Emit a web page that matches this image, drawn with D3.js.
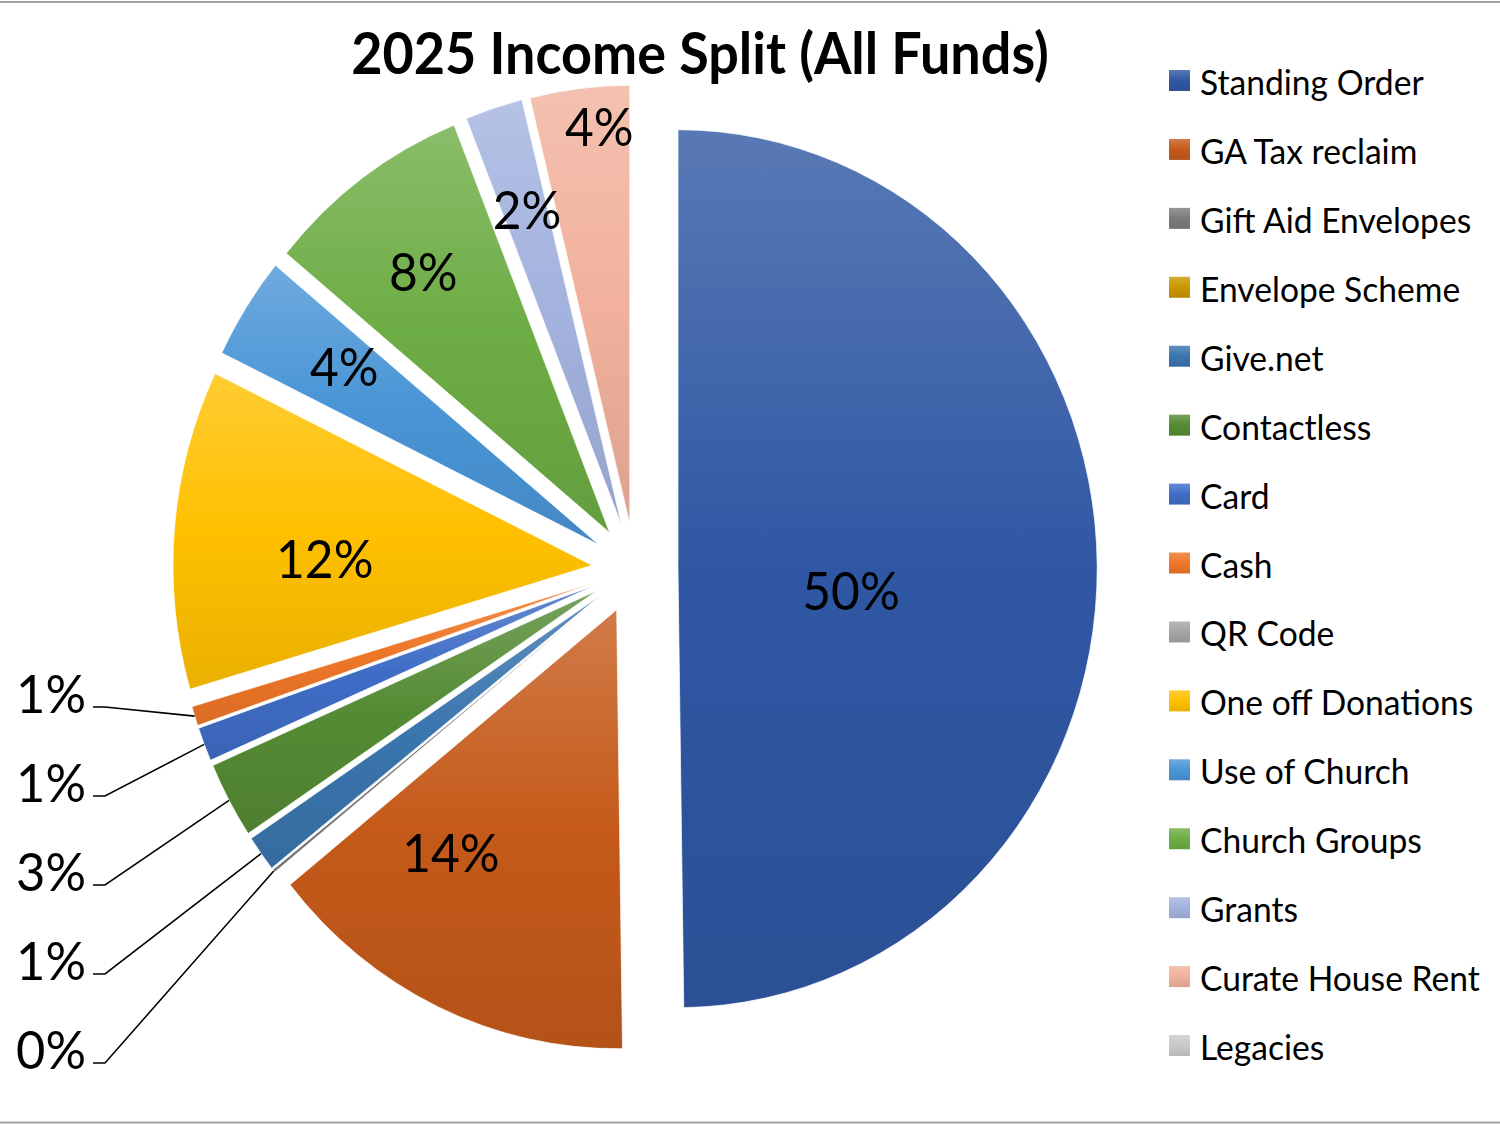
<!DOCTYPE html>
<html>
<head>
<meta charset="utf-8">
<title>2025 Income Split (All Funds)</title>
<script src="https://d3js.org/d3.v7.min.js"></script>
<style>
  body { margin: 0; background: #fff; }
  svg { display: block; font-family: Lato, "Open Sans", sans-serif; }
</style>
</head>
<body>
<div id="chart"></div>
<script>
// income sources, in the order Excel draws them (clockwise from 12 o'clock)
const categories = ['Standing Order', 'GA Tax reclaim', 'Gift Aid Envelopes', 'Envelope Scheme', 'Give.net',
  'Contactless', 'Card', 'Cash', 'QR Code', 'One off Donations', 'Use of Church', 'Church Groups',
  'Grants', 'Curate House Rent', 'Legacies'];
// share of total income in % (0 = blank cell, no label)
const shares = [49.77, 14.44, 0.11, 0, 1.33, 2.81, 1.25, 0.72, 0, 11.75, 3.78, 7.97, 2.22, 3.83, 0];
const colors = ['#2f57a3', '#c55a1a', '#7b7b7b', '#c99700', '#3a75ae', '#558b34', '#3f6dc6', '#ee7627',
  '#a5a5a5', '#ffc000', '#4a95d6', '#6dad45', '#a3b2de', '#f1b19c', '#c9c9c9'];

// label placement inside the slice: [fraction of radius from the slice tip, turn in degrees]
// null = label sits outside with a leader line
const labelPlacement = [[0.416, 7.6], [0.681, 10.3], null, null, null, null, null, null, null,
  [0.638, -3.6], [0.73, 1.0], [0.742, -0.7], [0.755, 0.35], [0.908, 2.3], null];

const W = 1500, H = 1125;
const sx = 0.955;              // the picture is squeezed a little horizontally
const ux = x => x / sx;
const R = 439, explode = 45;
const cx = ux(635), cy = 569;

const svg = d3.select('#chart').append('svg').attr('width', W).attr('height', H);
const defs = svg.append('defs');
colors.forEach((c, i) => {
  const g = defs.append('linearGradient').attr('id', 'grad' + i)
    .attr('x1', 0).attr('y1', 0).attr('x2', 0).attr('y2', 1);
  g.append('stop').attr('offset', '0%').attr('stop-color', d3.interpolateRgb(c, '#fff')(0.2));
  g.append('stop').attr('offset', '50%').attr('stop-color', c);
  g.append('stop').attr('offset', '100%').attr('stop-color', d3.color(c).darker(0.25));
});

svg.append('rect').attr('x', -2).attr('y', 2).attr('width', W + 4).attr('height', H - 4.5)
  .attr('fill', 'none').attr('stroke', '#a0a0a0').attr('stroke-width', 2);

const root = svg.append('g').attr('transform', `scale(${sx},1)`);

root.append('text')
  .attr('x', ux(700)).attr('y', 74)
  .attr('text-anchor', 'middle')
  .attr('font-size', 56.5).attr('font-weight', 700)
  .text('2025 Income Split (All Funds)');

// pie
const data = categories.map((name, i) => ({name, share: shares[i], i}));
const total = d3.sum(shares);
const arcs = d3.pie().sort(null).value(d => d.share)(data);
const arc = d3.arc().innerRadius(0).outerRadius(R);
const mid = a => (a.startAngle + a.endAngle) / 2;
const polar = (ang, rad) => [rad * Math.sin(ang), -rad * Math.cos(ang)];
const tip = a => polar(mid(a), explode);
const pct = a => Math.round(a.value / total * 100) + '%';

const pieG = root.append('g').attr('transform', `translate(${cx},${cy})`);

pieG.selectAll('path.slice')
  .data(arcs.filter(a => a.value > 0))
  .join('path')
  .attr('class', 'slice')
  .attr('transform', a => `translate(${tip(a)})`)
  .attr('d', arc)
  .attr('fill', a => `url(#grad${a.data.i})`)
  .attr('stroke', '#fff')
  .attr('stroke-width', 0.75);

// labels inside the slices
const inside = arcs.filter(a => a.value > 0 && labelPlacement[a.data.i]).map(a => {
  const [k, turn] = labelPlacement[a.data.i];
  const t = tip(a), p = polar(mid(a) + turn * Math.PI / 180, k * R);
  return {a, x: t[0] + p[0], y: t[1] + p[1]};
});

pieG.selectAll('text.in')
  .data(inside)
  .join('text')
  .attr('class', 'in')
  .attr('x', d => d.x).attr('y', d => d.y)
  .attr('dy', '0.36em')
  .attr('text-anchor', 'middle')
  .attr('font-size', 52)
  .text(d => pct(d.a));

// small slices: labels stacked down the left side, with leader lines
const outside = arcs.filter(a => a.value > 0 && !labelPlacement[a.data.i]).map(a => {
  const t = tip(a), p = polar(mid(a), R);
  return {a, ax: t[0] + p[0], ay: t[1] + p[1]};
}).sort((p, q) => p.ay - q.ay);

const gap = 89, bottom = 1050 - cy;
outside.forEach((o, i) => { o.ly = i ? Math.max(o.ay, outside[i - 1].ly + gap) : o.ay; });
const last = outside[outside.length - 1];
last.ly = Math.min(last.ly, bottom);
for (let i = outside.length - 2; i >= 0; i--) outside[i].ly = Math.min(outside[i].ly, outside[i + 1].ly - gap);

const labelRight = ux(86) - cx;

pieG.selectAll('path.leader')
  .data(outside)
  .join('path')
  .attr('class', 'leader')
  .attr('d', d => `M${labelRight + ux(7)},${d.ly + 13}H${labelRight + ux(19)}L${d.ax},${d.ay}`)
  .attr('fill', 'none')
  .attr('stroke', '#000')
  .attr('stroke-width', 1.6);

pieG.selectAll('text.out')
  .data(outside)
  .join('text')
  .attr('class', 'out')
  .attr('x', labelRight).attr('y', d => d.ly)
  .attr('dy', '0.36em')
  .attr('text-anchor', 'end')
  .attr('font-size', 53)
  .text(d => pct(d.a));

// legend
const legendY = d3.scalePoint().domain(categories).range([80.5, 80.5 + 14 * 68.93]);
const row = root.append('g').selectAll('g')
  .data(data)
  .join('g')
  .attr('transform', d => `translate(${ux(1169)},${legendY(d.name)})`);

row.append('rect')
  .attr('y', -10.5)
  .attr('width', ux(21)).attr('height', 21)
  .attr('fill', d => `url(#grad${d.i})`);

row.append('text')
  .attr('x', ux(31)).attr('y', 14.5)
  .attr('font-size', 35.2)
  .text(d => d.name);
</script>
</body>
</html>
